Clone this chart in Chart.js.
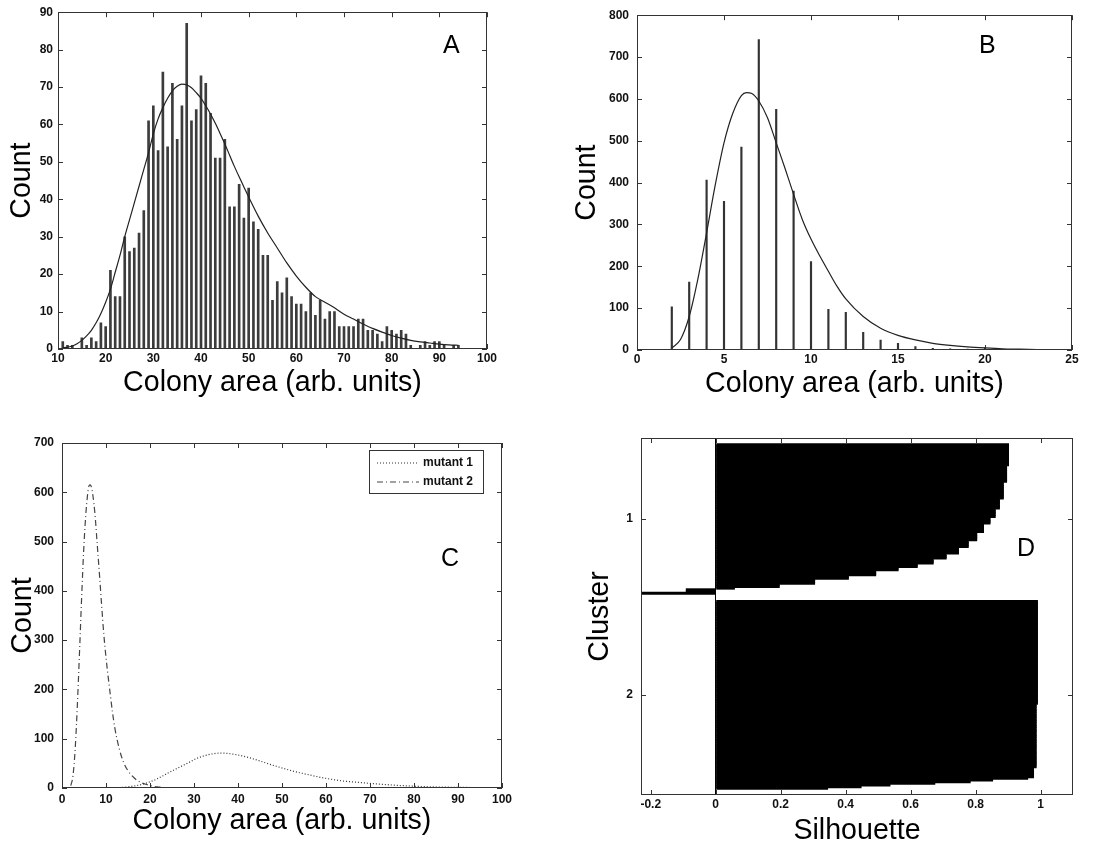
<!DOCTYPE html>
<html>
<head>
<meta charset="utf-8">
<script src="https://cdn.jsdelivr.net/npm/chart.js@4.4.1/dist/chart.umd.min.js"></script>
<style>
  body { margin: 0; background: #fff; width: 1104px; height: 849px; position: relative; overflow: hidden; font-family: 'Liberation Sans', Arial, sans-serif; }
  canvas { position: absolute; }
  .tag { position: absolute; font-size: 25px; line-height: 1; color: #000; }
</style>
</head>
<body>
<canvas id="chartA" width="552" height="400" style="left:0;top:0"></canvas>
<canvas id="chartB" width="552" height="400" style="left:552px;top:0"></canvas>
<canvas id="chartC" width="552" height="449" style="left:0;top:400px"></canvas>
<canvas id="chartD" width="552" height="449" style="left:552px;top:400px"></canvas>
<div class="tag" style="left:443px;top:32px">A</div>
<div class="tag" style="left:979px;top:32px">B</div>
<div class="tag" style="left:441px;top:545px">C</div>
<div class="tag" style="left:1017px;top:535px">D</div>
<script>
// panel A: mutant 1 histogram + fit
const aBins = [11,12,13,14,15,16,17,18,19,20,21,22,23,24,25,26,27,28,29,30,31,32,33,34,35,36,37,38,39,40,
  41,42,43,44,45,46,47,48,49,50,51,52,53,54,55,56,57,58,59,60,61,62,63,64,65,66,67,68,69,70,
  71,72,73,74,75,76,77,78,79,80,81,82,83,84,85,86,87,88,89,90,91,92,93,94];
const aCounts = [2,1,1,0,3,1,3,2,7,6,21,14,14,30,26,27,31,37,61,65,53,74,54,71,56,65,87,61,64,73,
  71,63,51,51,56,38,38,44,35,43,34,32,25,25,13,18,15,19,14,12,12,10,15,9,13,8,10,10,6,6,
  6,6,8,8,5,5,4,2,6,5,4,5,4,1,0,1,2,1,2,2,1,0,1,1];
const aFitX = [11,12,13,14,15,16,17,18,19,20,21,22,23,24,25,26,27,28,29,30,31,32,33,34,35,36,37,38,39,40,
  41,42,43,44,45,46,47,48,49,50,52,54,56,58,60,62,64,66,68,70,72,74,76,78,80,82,84,86,88,90,92,94];
const aFitY = [0.3,0.5,0.8,1.4,2.3,3.5,5,7,9.5,12.5,16,20.5,25,30,34.5,39,43.5,48,52.5,57.5,
  61.5,64.5,67,69,70.2,70.8,70.6,69.8,68.5,67,65,62.8,60.3,57.6,54.8,51.8,48.8,46,43.3,40.6,
  35.5,31,27,23,19.5,16.5,14,12.5,11,9.3,8,6.7,5.5,4.5,3.6,2.9,2.3,1.9,1.6,1.3,1.1,1];

// panel B: mutant 2 histogram + fit
const bBins = [2,3,4,5,6,7,8,9,10,11,12,13,14,15,16,17,18,19,20,21,22,23];
const bCounts = [103,162,406,355,485,742,575,380,211,97,90,42,24,16,8,4,3,2,5,1,1,1];
const bFitX = [2,2.5,3,3.5,4,4.5,5,5.5,6,6.3,6.6,7,7.5,8,8.5,9,9.5,10,10.5,11,11.5,12,13,14,15,16,17,18,19,20,21,22,23];
const bFitY = [5,25,80,170,280,395,495,565,608,615,613,595,555,495,435,372,312,265,225,188,152,122,80,52,35,24,16,11,7.5,5,3,2,1];

// panel C legend labels
const seriesNames = ['mutant 1', 'mutant 2'];

// panel D: silhouette steps (value, number of points), sorted within each cluster
const clusterNames = ['1', '2'];
const cluster1Values = [0.903,0.897,0.887,0.875,0.862,0.846,0.826,0.805,0.779,0.749,0.711,0.671,0.622,0.563,0.494,0.41,0.306,0.197,0.059,-0.092,-0.229];
const cluster1Counts = [13,10,10,6,5,4,5,5,4,4,3,3,2,2,3,2,3,2,1,2,1];
const cluster2Values = [0.992,0.988,0.98,0.962,0.854,0.785,0.676,0.538,0.449,0.346];
const cluster2Counts = [62,38,6,1,1,1,1,1,1,1];
const dTicks = [-0.2, 0, 0.2, 0.4, 0.6, 0.8, 1];

Chart.defaults.font.family = "'Liberation Sans', Arial, sans-serif";
Chart.defaults.color = '#111';

const tickFont = { size: 12, weight: 'bold' };
const titleFont = { size: 28.6, lineHeight: 1 };

const points = (xs, ys) => xs.map((x, i) => ({ x: x, y: ys[i] }));

// matlab style box with inward ticks on all four sides
const framePlugin = {
  id: 'frame',
  afterDatasetsDraw(chart) {
    const { ctx, chartArea: a } = chart;
    const xs = chart.scales.x, ys = chart.scales.y;
    const len = 5;
    ctx.save();
    ctx.strokeStyle = '#333';
    ctx.lineWidth = 1;
    ctx.beginPath();
    xs.ticks.forEach(t => {
      const p = Math.round(xs.getPixelForValue(t.value)) + 0.5;
      ctx.moveTo(p, a.bottom); ctx.lineTo(p, a.bottom - len);
      ctx.moveTo(p, a.top); ctx.lineTo(p, a.top + len);
    });
    ys.ticks.forEach(t => {
      const p = Math.round(ys.getPixelForValue(t.value)) + 0.5;
      ctx.moveTo(a.left, p); ctx.lineTo(a.left + len, p);
      ctx.moveTo(a.right, p); ctx.lineTo(a.right - len, p);
    });
    ctx.stroke();
    ctx.strokeRect(Math.round(a.left) + 0.5, Math.round(a.top) + 0.5, Math.round(a.width) - 1, Math.round(a.height) - 1);
    ctx.restore();
  }
};

const boxLegend = {
  id: 'boxLegend',
  afterDraw(chart, args, opts) {
    if (!opts.show) return;
    const { ctx, chartArea: a } = chart;
    const w = 114, h = 43;
    const x0 = Math.round(a.right - opts.right - w), y0 = Math.round(a.top + opts.top);
    ctx.save();
    ctx.fillStyle = '#fff';
    ctx.fillRect(x0, y0, w, h);
    ctx.strokeStyle = '#333';
    ctx.lineWidth = 1;
    ctx.strokeRect(x0 + 0.5, y0 + 0.5, w, h);
    ctx.font = "bold 12px 'Liberation Sans', Arial";
    ctx.textBaseline = 'middle';
    chart.data.datasets.forEach((ds, i) => {
      const y = y0 + 13 + i * 19;
      ctx.setLineDash(ds.borderDash || []);
      ctx.strokeStyle = ds.borderColor;
      ctx.lineWidth = ds.borderWidth;
      ctx.beginPath(); ctx.moveTo(x0 + 8, y); ctx.lineTo(x0 + 50, y); ctx.stroke();
      ctx.setLineDash([]);
      ctx.fillStyle = '#111';
      ctx.fillText(ds.label, x0 + 54, y);
    });
    ctx.restore();
  }
};

Chart.register(framePlugin, boxLegend);

function axis(o, horizontal) {
  return {
    type: 'linear',
    min: o.min, max: o.max,
    reverse: !!o.reverse,
    offset: false,
    grid: o.grid || { display: false, drawTicks: false },
    border: { display: false },
    ticks: { stepSize: o.step, padding: o.pad, font: tickFont, color: '#111', maxRotation: 0, autoSkip: false, callback: o.fmt },
    afterBuildTicks: o.list ? s => { s.ticks = o.list.map(v => ({ value: v })); } : undefined,
    title: {
      display: !!o.title, text: o.title, font: titleFont, color: '#000',
      padding: horizontal ? { top: 0, bottom: o.titlePad } : { top: o.titlePad, bottom: 0 }
    },
    afterFit: s => { if (horizontal) s.height = o.size; else s.width = o.size; }
  };
}

function options(o) {
  return {
    responsive: false,
    animation: false,
    devicePixelRatio: 1,
    indexAxis: o.indexAxis || 'x',
    layout: { padding: o.padding },
    plugins: {
      legend: { display: false },
      tooltip: { enabled: false },
      boxLegend: o.legend || { show: false }
    },
    scales: { x: axis(o.x, true), y: axis(o.y, false) }
  };
}

const xTitle = 'Colony area (arb. units)';

new Chart(document.getElementById('chartA'), {
  type: 'bar',
  data: {
    datasets: [
      { type: 'line', data: points(aFitX, aFitY), borderColor: '#222', borderWidth: 1.2, pointRadius: 0, cubicInterpolationMode: 'monotone', order: 0 },
      { data: points(aBins, aCounts), backgroundColor: '#3c3c3c', barThickness: 2, order: 1 }
    ]
  },
  options: options({
    padding: { top: 11, right: 65, left: 0, bottom: 0 },
    x: { min: 10, max: 100, step: 10, pad: 2, size: 51, title: xTitle, titlePad: 3 },
    y: { min: 0, max: 90, step: 10, pad: 5, size: 58, title: 'Count', titlePad: 8 }
  })
});

new Chart(document.getElementById('chartB'), {
  type: 'bar',
  data: {
    datasets: [
      { type: 'line', data: points(bFitX, bFitY), borderColor: '#222', borderWidth: 1.2, pointRadius: 0, cubicInterpolationMode: 'monotone', order: 0 },
      { data: points(bBins, bCounts), backgroundColor: '#333', barThickness: 1.5, order: 1 }
    ]
  },
  options: options({
    padding: { top: 11, right: 32, left: 0, bottom: 0 },
    x: { min: 0, max: 25, step: 5, pad: 2, size: 50, title: xTitle, titlePad: 2 },
    y: { min: 0, max: 800, step: 100, pad: 8, size: 85, title: 'Count', titlePad: 21 }
  })
});

new Chart(document.getElementById('chartC'), {
  type: 'line',
  data: {
    datasets: [
      { label: seriesNames[0], data: points(aFitX, aFitY), borderColor: '#333', borderWidth: 1.2, borderDash: [1, 2], pointRadius: 0, cubicInterpolationMode: 'monotone' },
      { label: seriesNames[1], data: points(bFitX, bFitY), borderColor: '#444', borderWidth: 1.2, borderDash: [6, 3, 1, 3], pointRadius: 0, cubicInterpolationMode: 'monotone' }
    ]
  },
  options: options({
    padding: { top: 43, right: 50, left: 0, bottom: 0 },
    x: { min: 0, max: 100, step: 10, pad: 4, size: 61, title: xTitle, titlePad: 14 },
    y: { min: 0, max: 700, step: 100, pad: 8, size: 62, title: 'Count', titlePad: 9 },
    legend: { show: true, right: 19, top: 7 }
  })
});

// silhouette rows: one bar per point, clusters separated by a small gap
const firstRow = 4, gapRows = 4;
function siloRows(values, counts, start) {
  const rows = [];
  let r = start;
  values.forEach((v, i) => { for (let k = 0; k < counts[i]; k++) rows.push({ x: v, y: r++ }); });
  return rows;
}
const rows1 = siloRows(cluster1Values, cluster1Counts, firstRow);
const start2 = firstRow + rows1.length + gapRows;
const rows2 = siloRows(cluster2Values, cluster2Counts, start2);
const clusterCenters = [firstRow + (rows1.length - 1) / 2, start2 + (rows2.length - 1) / 2];

new Chart(document.getElementById('chartD'), {
  type: 'bar',
  data: {
    datasets: [
      { data: rows1.concat(rows2), backgroundColor: '#000', borderWidth: 0, barThickness: 3, inflateAmount: 0 }
    ]
  },
  options: options({
    indexAxis: 'y',
    padding: { top: 38, right: 31, left: 0, bottom: 0 },
    x: {
      min: -0.23, max: 1.1, list: dTicks, pad: 2, size: 54, title: 'Silhouette', titlePad: 4,
      fmt: v => String(Math.round(v * 10) / 10),
      grid: { display: true, drawOnChartArea: true, drawTicks: false, lineWidth: 1, color: c => (c.tick && c.tick.value === 0) ? '#000' : 'rgba(0,0,0,0)' }
    },
    y: {
      min: 0, max: 214, reverse: true, list: clusterCenters, pad: 8, size: 89, title: 'Cluster', titlePad: 34,
      fmt: (v, i) => clusterNames[i]
    }
  })
});
</script>
</body>
</html>
